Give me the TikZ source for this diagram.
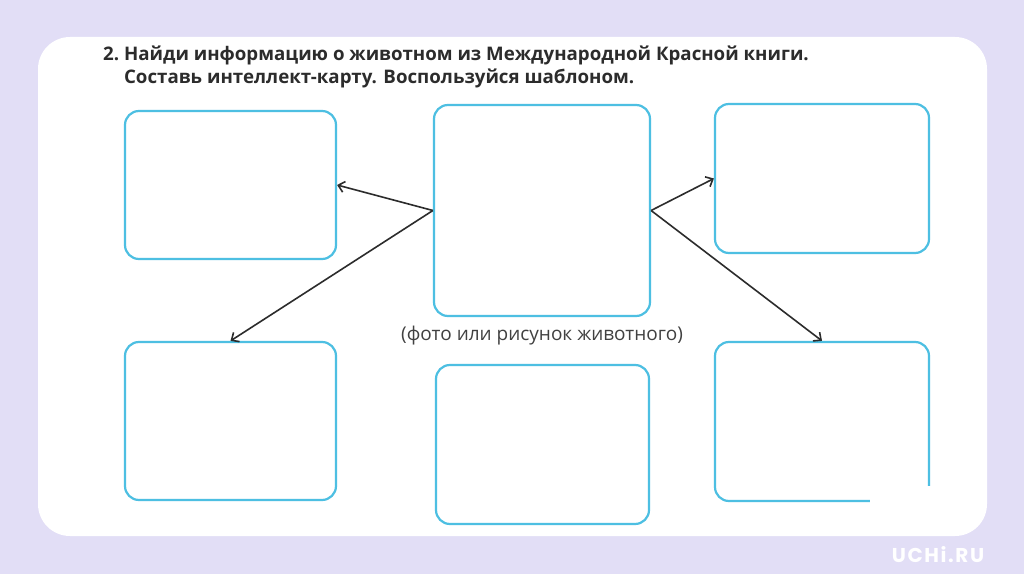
\documentclass[tikz,border=0pt]{standalone}
\usepackage{fontspec}
\setmainfont{Open Sans}
\newfontfamily\logofont[LetterSpace=8]{Poppins}
\usetikzlibrary{positioning,arrows.meta}
\definecolor{bg}{HTML}{E2DEF6}
\definecolor{frame}{HTML}{4DBFE2}
\definecolor{ink}{HTML}{2C2C2C}

\begin{document}
\begin{tikzpicture}[x=1bp, y=-1bp,
  card/.style={draw=frame, line width=2.2bp, rounded corners=14bp, inner sep=0pt},
  link/.style={-{Straight Barb[length=6bp, width=11bp]}, line width=1.6bp, draw=ink}]
\useasboundingbox (0,0) rectangle (1024,574);
\fill[bg] (0,0) rectangle (1024,574);
\fill[white, rounded corners=32bp] (38,37) rectangle (987,536);
% task text
\node[anchor=base west, inner sep=0pt, align=left, font=\bfseries\fontsize{18.7bp}{23bp}\selectfont, text=ink] (task) at (103,84)
  {2.~Найди информацию о животном из Международной Красной книги.\\\phantom{2.~}Составь интеллект-карту. Воспользуйся шаблоном.};
% the template
\node[card, minimum width=216bp, minimum height=211bp] (photo) at (542,210.5) {};
\node[card, minimum width=211bp, minimum height=148bp] (leftup) at (230.5,185) {};
\node[card, minimum width=214bp, minimum height=149bp] (rightup) at (822,178.5) {};
\node[card, minimum width=211bp, minimum height=158bp] (leftdown) at (230.5,421) {};
\node[card, minimum width=213bp, minimum height=159bp] (middown) at (542.5,444.5) {};
\node[card, minimum width=214bp, minimum height=159bp] (rightdown) at (822,421.5) {};
\fill[white] (870,486) rectangle (936,507);
\node[font=\fontsize{19bp}{22bp}\selectfont, text=ink!90, below=5bp of photo] (caption) {(фото или рисунок животного)};
\draw[link] (photo.west) -- (leftup.east);
\draw[link] (photo.west) -- (leftdown.north);
\draw[link] (photo.east) -- (rightup.west);
\draw[link] (photo.east) -- (rightdown.north);
\node[text=white, font=\logofont\bfseries\fontsize{20bp}{22bp}\selectfont] (logo) at (938,555) {UCHi.RU};
\end{tikzpicture}
\end{document}
